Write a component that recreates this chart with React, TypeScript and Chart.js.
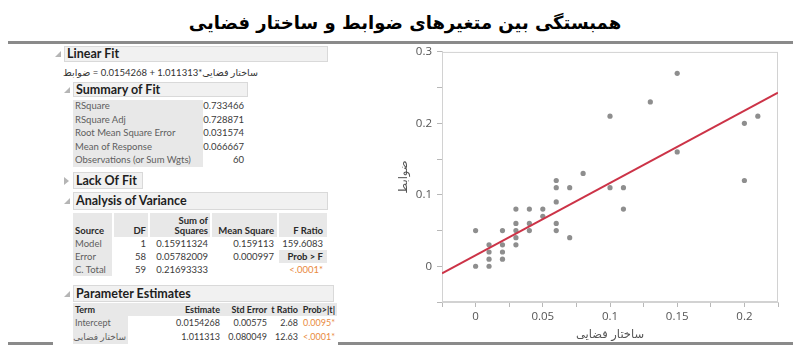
import React, { useEffect, useRef } from "react";
import { Chart, registerables } from "chart.js";

Chart.register(...registerables);

// ---------- data ----------
const titleText = "همبستگی بین متغیرهای ضوابط و ساختار فضایی";
const xAxisTitle = "ساختار فضایی";
const yAxisTitle = "ضوابط";

const pointsX = [
  0, 0,
  0.01, 0.01, 0.01, 0.01,
  0.02, 0.02, 0.02, 0.02,
  0.03, 0.03, 0.03, 0.03, 0.03,
  0.04, 0.04, 0.04,
  0.05, 0.05,
  0.06, 0.06, 0.06, 0.06, 0.06,
  0.07, 0.07,
  0.08,
  0.1, 0.1,
  0.11, 0.11,
  0.13,
  0.15, 0.15,
  0.2, 0.2,
  0.21,
];
const pointsY = [
  0.05, 0,
  0.03, 0.02, 0.01, 0,
  0.05, 0.03, 0.02, 0.01,
  0.08, 0.06, 0.05, 0.04, 0.03,
  0.08, 0.06, 0.05,
  0.08, 0.07,
  0.12, 0.11, 0.09, 0.06, 0.05,
  0.11, 0.04,
  0.13,
  0.21, 0.11,
  0.11, 0.08,
  0.23,
  0.27, 0.16,
  0.2, 0.12,
  0.21,
];

const fitIntercept = 0.0154268;
const fitSlope = 1.011313;

const xMin = -0.025;
const xMax = 0.225;
const xStep = 0.025;
const xLabelEvery = 0.05;
const yMin = -0.05;
const yMax = 0.3;
const yStep = 0.05;
const yLabelEvery = 0.1;

const summaryLabels = [
  "RSquare",
  "RSquare Adj",
  "Root Mean Square Error",
  "Mean of Response",
  "Observations (or Sum Wgts)",
];
const summaryValues = ["0.733466", "0.728871", "0.031574", "0.066667", "60"];

const anovaHeaders = ["Source", "DF", "Squares", "Mean Square", "F Ratio"];
const anovaSources = ["Model", "Error", "C. Total"];
const anovaDF = ["1", "58", "59"];
const anovaSS = ["0.15911324", "0.05782009", "0.21693333"];
const anovaMS = ["0.159113", "0.000997", ""];
const anovaLast = ["159.6083", "Prob > F", "<.0001*"];

const peHeaders = ["Term", "Estimate", "Std Error", "t Ratio", "Prob>|t|"];
const peTerms = ["Intercept", "ساختار فضایی"];
const peEst = ["0.0154268", "1.011313"];
const peSE = ["0.00575", "0.080049"];
const peT = ["2.68", "12.63"];
const peP = ["0.0095*", "<.0001*"];

// ---------- helpers ----------
const FONT = "Lato, 'Open Sans', 'DejaVu Sans', sans-serif";
const ORANGE = "#e98a3e";

function isMultiple(v: number, step: number) {
  const r = v / step;
  return Math.abs(r - Math.round(r)) < 1e-6;
}
function fmt(v: number) {
  return String(parseFloat(v.toFixed(4)));
}

function Txt(props: {
  x: number;
  y: number;
  children: any;
  align?: "left" | "right";
  size?: number;
  bold?: boolean;
  color?: string;
  dir?: string;
  ls?: number;
}) {
  const { x, y, children, align = "left", size = 9.5, bold = false, color = "#3a3a3a", dir, ls } = props;
  const h = 14;
  const style: any = {
    position: "absolute",
    top: y - h / 2,
    height: h,
    lineHeight: h + "px",
    fontSize: size,
    fontWeight: bold ? 700 : 400,
    color,
    whiteSpace: "nowrap",
    fontFamily: FONT,
  };
  if (ls !== undefined) style.letterSpacing = ls;
  if (align === "left") style.left = x;
  else {
    style.left = x - 300;
    style.width = 300;
    style.textAlign = "right";
  }
  return (
    <div style={style} dir={dir}>
      {children}
    </div>
  );
}

function Box(props: { x1: number; y1: number; x2: number; y2: number; bg?: string; border?: string }) {
  const { x1, y1, x2, y2, bg = "#e9e9e9", border } = props;
  return (
    <div
      style={{
        position: "absolute",
        left: x1,
        top: y1,
        width: x2 - x1,
        height: y2 - y1,
        background: bg,
        boxSizing: "border-box",
        border: border ? "1px solid " + border : undefined,
      }}
    />
  );
}

function Header(props: { x1: number; x2: number; y1: number; y2: number; text: string; open?: boolean }) {
  const { x1, x2, y1, y2, text, open = true } = props;
  const cy = (y1 + y2) / 2;
  return (
    <>
      <Box x1={x1} y1={y1} x2={x2} y2={y2} bg="#f1f1f1" border="#d9d9d9" />
      <div
        style={{
          position: "absolute",
          left: x1 - 9,
          top: cy - 4,
          width: 0,
          height: 0,
          ...(open
            ? { borderLeft: "6px solid transparent", borderBottom: "6px solid #b5b5b5", top: cy - 3 }
            : { borderTop: "4px solid transparent", borderBottom: "4px solid transparent", borderLeft: "5px solid #b5b5b5" }),
        }}
      />
      <Txt x={x1 + 3} y={cy} size={12.5} bold color="#1e1e1e">
        {text}
      </Txt>
    </>
  );
}

function ScatterChart() {
  const ref = useRef<HTMLCanvasElement | null>(null);
  useEffect(() => {
    if (!ref.current) return;
    const framePlugin = {
      id: "frame",
      beforeDatasetsDraw(chart: any) {
        const { ctx, chartArea } = chart;
        const { left, top, right, bottom } = chartArea;
        ctx.save();
        ctx.strokeStyle = "#d2d2d2";
        ctx.lineWidth = 1;
        ctx.strokeRect(left + 0.5, top + 0.5, right - left - 1, bottom - top - 1);
        ctx.restore();
      },
    };
    const fitXs = [xMin, xMax];
    const chart = new Chart(ref.current, {
      type: "scatter",
      data: {
        datasets: [
          {
            type: "line",
            data: fitXs.map((x) => ({ x, y: fitIntercept + fitSlope * x })),
            borderColor: "#cc3347",
            borderWidth: 2,
            pointRadius: 0,
            order: 0,
          } as any,
          {
            data: pointsX.map((x, i) => ({ x, y: pointsY[i] })),
            backgroundColor: "#8e8e8e",
            borderWidth: 0,
            pointRadius: 2.6,
            order: 1,
          },
        ],
      },
      plugins: [framePlugin],
      options: {
        animation: false,
        responsive: false,
        devicePixelRatio: 1,
        layout: { padding: { left: 0, right: 15, top: 10, bottom: 0 } },
        plugins: { legend: { display: false }, tooltip: { enabled: false } },
        scales: {
          x: {
            type: "linear",
            min: xMin,
            max: xMax,
            afterFit: (s: any) => {
              s.height = 41;
            },
            ticks: {
              stepSize: xStep,
              autoSkip: false,
              maxRotation: 0,
              padding: 3,
              color: "#555",
              font: { family: "'Open Sans', sans-serif", size: 11.5 },
              callback: (v: any) => (isMultiple(Number(v), xLabelEvery) ? fmt(Number(v)) : ""),
            },
            grid: { drawOnChartArea: false, drawTicks: true, tickLength: 5, color: "#b8b8b8" },
            border: { display: true, color: "#d2d2d2" },
            title: {
              display: true,
              text: xAxisTitle,
              color: "#555",
              font: { family: "'DejaVu Sans', sans-serif", size: 11.5 },
              padding: { top: 0, bottom: 1 },
            },
          },
          y: {
            type: "linear",
            min: yMin,
            max: yMax,
            afterFit: (s: any) => {
              s.width = 57;
            },
            ticks: {
              stepSize: yStep,
              autoSkip: false,
              padding: 5,
              color: "#555",
              font: { family: "'Open Sans', sans-serif", size: 11.5 },
              callback: (v: any) => (isMultiple(Number(v), yLabelEvery) ? fmt(Number(v)) : ""),
            },
            grid: { drawOnChartArea: false, drawTicks: true, tickLength: 5, color: "#b8b8b8" },
            border: { display: true, color: "#d2d2d2" },
            title: {
              display: true,
              text: yAxisTitle,
              color: "#555",
              font: { family: "'DejaVu Sans', sans-serif", size: 11.5 },
              padding: { top: 12, bottom: 0 },
            },
          },
        },
      } as any,
    });
    return () => chart.destroy();
  }, []);
  return <canvas ref={ref} width={408} height={303} style={{ position: "absolute", left: 385, top: 40, width: 408, height: 303 }} />;
}

export default function App() {
  const sumRowY = [106, 119.5, 133, 146.5, 160];
  const anovaRowY = [243.5, 256.5, 269.5];
  const anovaRight = [146, 208, 274, 323];
  const anovaHdrCells = [
    [73, 112],
    [114, 148],
    [150, 210],
    [212, 277],
    [279, 327],
  ];
  const peRight = [220, 267, 298, 335];
  const peRowY = [323, 337];
  const inl: any = { display: "inline-block" };

  return (
    <div
      style={{
        position: "absolute",
        left: 0,
        top: 0,
        width: 793,
        height: 345,
        background: "#fff",
        overflow: "hidden",
        fontFamily: FONT,
      }}
    >
      {/* title */}
      <div
        dir="rtl"
        style={{
          position: "absolute",
          left: 0,
          width: 810,
          top: 9,
          height: 28,
          lineHeight: "28px",
          textAlign: "center",
          fontFamily: "'DejaVu Sans', sans-serif",
          fontWeight: 700,
          fontSize: 18,
          color: "#000",
        }}
      >
        {titleText}
      </div>
      {/* rules */}
      <Box x1={8} y1={41} x2={793} y2={44} bg="#8a8a8a" />
      <Box x1={8} y1={342} x2={53} y2={345} bg="#8a8a8a" />
      <Box x1={338} y1={342} x2={793} y2={345} bg="#8a8a8a" />

      {/* Linear Fit */}
      <Header x1={64} x2={328} y1={46} y2={62} text="Linear Fit" />
      <div
        dir="ltr"
        style={{
          position: "absolute",
          left: 63,
          top: 66,
          height: 14,
          lineHeight: "14px",
          fontSize: 9.5,
          color: "#333",
          whiteSpace: "pre",
          direction: "ltr",
          fontFamily: FONT,
        }}
      >
        <span style={inl} dir="rtl">{yAxisTitle}</span>
        <span style={inl} dir="ltr">{" = " + String(fitIntercept) + " + " + String(fitSlope) + "*"}</span>
        <span style={inl} dir="rtl">{xAxisTitle}</span>
      </div>

      {/* Summary of Fit */}
      <Header x1={73} x2={248} y1={82} y2={97} text="Summary of Fit" />
      <Box x1={73} y1={100} x2={203} y2={167} bg="#e8e8e8" />
      {summaryLabels.map((l, i) => (
        <Txt key={"sl" + i} x={75} y={sumRowY[i]} color="#5e5e5e">
          {l}
        </Txt>
      ))}
      {summaryValues.map((v, i) => (
        <Txt key={"sv" + i} x={244} y={sumRowY[i]} align="right">
          {v}
        </Txt>
      ))}

      {/* Lack of Fit */}
      <Header x1={73} x2={143} y1={172} y2={189} text="Lack Of Fit" open={false} />

      {/* Analysis of Variance */}
      <Header x1={73} x2={328} y1={192} y2={210} text="Analysis of Variance" />
      {anovaHdrCells.map((c, i) => (
        <Box key={"ah" + i} x1={c[0]} y1={213} x2={c[1]} y2={237} bg="#e8e8e8" />
      ))}
      <Box x1={73} y1={237} x2={112} y2={276} bg="#e8e8e8" />
      <Box x1={279} y1={250} x2={327} y2={263} bg="#e8e8e8" />
      <Txt x={208} y={220.5} align="right" bold color="#2a2a2a">
        Sum of
      </Txt>
      <Txt x={75} y={231} bold color="#2a2a2a">
        {anovaHeaders[0]}
      </Txt>
      {anovaHeaders.slice(1).map((h, i) => (
        <Txt key={"ahh" + i} x={anovaRight[i]} y={231} align="right" bold color="#2a2a2a">
          {h}
        </Txt>
      ))}
      {anovaSources.map((s, r) => (
        <React.Fragment key={"ar" + r}>
          <Txt x={75} y={anovaRowY[r]} color="#5e5e5e">
            {s}
          </Txt>
          <Txt x={anovaRight[0]} y={anovaRowY[r]} align="right">
            {anovaDF[r]}
          </Txt>
          <Txt x={anovaRight[1]} y={anovaRowY[r]} align="right">
            {anovaSS[r]}
          </Txt>
          <Txt x={anovaRight[2]} y={anovaRowY[r]} align="right">
            {anovaMS[r]}
          </Txt>
          <Txt
            x={anovaRight[3]}
            y={anovaRowY[r]}
            align="right"
            bold={r === 1}
            color={r === 2 ? ORANGE : r === 1 ? "#2a2a2a" : "#3a3a3a"}
          >
            {anovaLast[r]}
          </Txt>
        </React.Fragment>
      ))}

      {/* Parameter Estimates */}
      <Header x1={73} x2={334} y1={285} y2={302} text="Parameter Estimates" />
      <Box x1={73} y1={303} x2={337} y2={316} bg="#e8e8e8" />
      <Box x1={73} y1={316} x2={128} y2={344} bg="#e8e8e8" />
      <Txt x={75} y={309.5} bold color="#2a2a2a" size={9}>
        {peHeaders[0]}
      </Txt>
      {peHeaders.slice(1).map((h, i) => (
        <Txt key={"ph" + i} x={peRight[i]} y={309.5} align="right" bold color="#2a2a2a" size={9}>
          {h}
        </Txt>
      ))}
      {peTerms.map((t, r) => (
        <React.Fragment key={"pr" + r}>
          {r === 0 ? (
            <Txt x={75} y={peRowY[r]} color="#5e5e5e" size={9}>
              {t}
            </Txt>
          ) : (
            <Txt x={126} y={peRowY[r]} align="right" color="#5e5e5e" dir="rtl" size={9}>
              {t}
            </Txt>
          )}
          <Txt x={peRight[0]} y={peRowY[r]} align="right" size={9}>
            {peEst[r]}
          </Txt>
          <Txt x={peRight[1]} y={peRowY[r]} align="right" size={9}>
            {peSE[r]}
          </Txt>
          <Txt x={peRight[2]} y={peRowY[r]} align="right" size={9}>
            {peT[r]}
          </Txt>
          <Txt x={peRight[3]} y={peRowY[r]} align="right" color={ORANGE} size={9}>
            {peP[r]}
          </Txt>
        </React.Fragment>
      ))}

      <ScatterChart />
    </div>
  );
}
